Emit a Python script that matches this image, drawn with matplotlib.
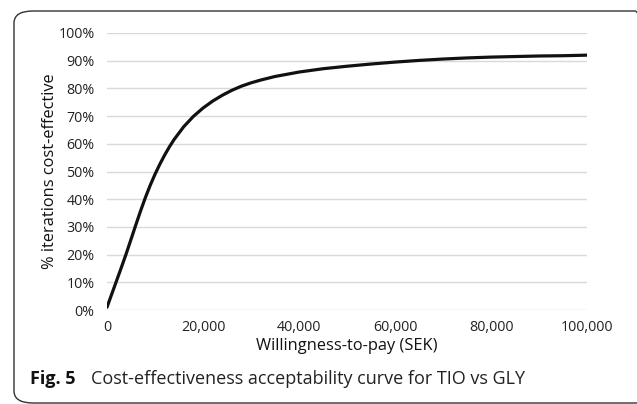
import matplotlib as mpl
import matplotlib.pyplot as plt
from matplotlib.patches import FancyBboxPatch
from matplotlib.ticker import FuncFormatter

mpl.rcParams['font.family'] = ['Open Sans', 'DejaVu Sans']

# =========================
# data
# =========================
wtp = [0, 1000, 2000, 3000, 4000, 5000, 6000, 7000, 8000, 9000, 10000,
       11000, 12000, 13000, 14000, 16000, 18000, 20000, 22000, 24000,
       26000, 28000, 30000, 32000, 35000, 40000, 45000, 50000, 55000,
       60000, 65000, 70000, 75000, 80000, 85000, 90000, 95000, 100000]
pct_ce = [1.0, 5.8, 10.6, 15.4, 20.3, 25.5, 30.7, 35.8, 40.6, 45.0, 49.0,
          52.6, 55.9, 58.9, 61.6, 66.2, 69.9, 72.9, 75.4, 77.5,
          79.3, 80.8, 82.0, 83.0, 84.3, 85.9, 87.1, 88.0, 88.8,
          89.5, 90.1, 90.6, 91.0, 91.3, 91.5, 91.7, 91.8, 92.0]

x_ticks = [0, 20000, 40000, 60000, 80000, 100000]
y_ticks = [0, 10, 20, 30, 40, 50, 60, 70, 80, 90, 100]

# =========================
# figure
# =========================
fig = plt.figure(figsize=(6.37, 4.04), dpi=100)
ax = fig.add_axes([107 / 637, 1 - 310 / 404, 480 / 637, 277 / 404])

# frame around the whole figure
box = FancyBboxPatch((14 / 637, 1 / 404), 640 / 637, 392 / 404,
                     boxstyle='round,pad=0,rounding_size=0.03',
                     transform=fig.transFigure, facecolor='none',
                     edgecolor='#333333', linewidth=1.0, clip_on=False)
fig.patches.append(box)

ax.plot(wtp, pct_ce, color='#111111', linewidth=2.3, solid_capstyle='round',
        solid_joinstyle='round', zorder=3)

ax.set_xlim(0, 100000)
ax.set_ylim(0, 100)
ax.set_xticks(x_ticks)
ax.set_yticks(y_ticks)
ax.xaxis.set_major_formatter(FuncFormatter(lambda v, p: f'{int(v):,}'))
ax.yaxis.set_major_formatter(FuncFormatter(lambda v, p: f'{int(v)}%'))
ax.grid(axis='y', color='#d9d9d9', linewidth=1.0, zorder=0)
ax.set_axisbelow(True)
for s in ax.spines.values():
    s.set_visible(False)
ax.tick_params(axis='both', length=0, labelsize=10.3, colors='#222222')
ax.tick_params(axis='y', pad=9)
ax.tick_params(axis='x', pad=7)

ax.set_xlabel('Willingness-to-pay (SEK)', fontsize=11.8, labelpad=2,
              color='#111111')
ax.set_ylabel('% iterations cost-effective', fontsize=11.8, labelpad=0,
              color='#111111')

# caption
fig.text(30 / 637, 1 - 384 / 404, 'Fig. 5', fontsize=13, fontweight='bold',
         color='#111111', va='baseline', ha='left')
fig.text(91 / 637, 1 - 384 / 404,
         'Cost-effectiveness acceptability curve for TIO vs GLY',
         fontsize=13, color='#222222', va='baseline', ha='left')

fig.savefig('out.png', dpi=100)
